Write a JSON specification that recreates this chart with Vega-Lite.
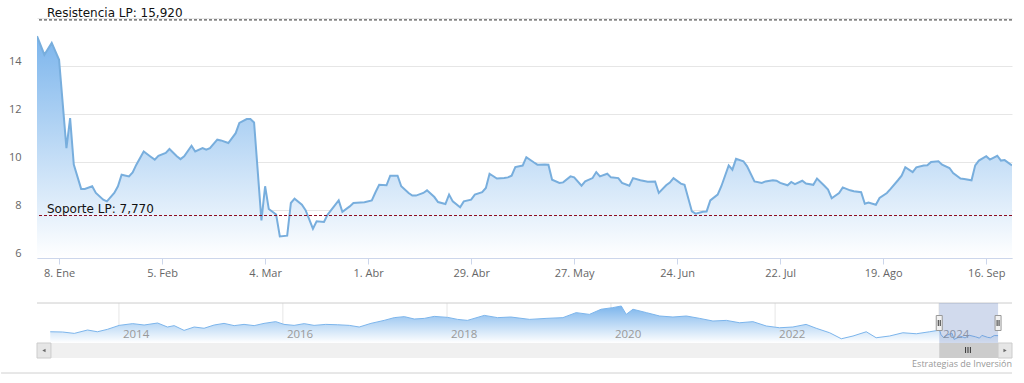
{
  "$schema": "https://vega.github.io/schema/vega-lite/v6.json",
  "padding": {"left": 0, "top": 6, "right": 0, "bottom": 0},
  "spacing": 24,
  "align": "all",
  "config": {"view": {"stroke": null}},
  "datasets": {
    "main": [
      {"d":"2024-01-02","v":15.24},{"d":"2024-01-04","v":14.47},{"d":"2024-01-06","v":14.96},{"d":"2024-01-08","v":14.26},
      {"d":"2024-01-10","v":10.58},{"d":"2024-01-11","v":11.83},{"d":"2024-01-12","v":9.89},{"d":"2024-01-14","v":8.88},
      {"d":"2024-01-15","v":8.88},{"d":"2024-01-17","v":8.99},{"d":"2024-01-18","v":8.71},{"d":"2024-01-20","v":8.43},
      {"d":"2024-01-21","v":8.36},{"d":"2024-01-23","v":8.71},{"d":"2024-01-24","v":8.99},{"d":"2024-01-25","v":9.47},
      {"d":"2024-01-27","v":9.40},{"d":"2024-01-28","v":9.57},{"d":"2024-01-29","v":9.89},{"d":"2024-01-31","v":10.44},
      {"d":"2024-02-02","v":10.21},{"d":"2024-02-03","v":10.10},{"d":"2024-02-04","v":10.26},{"d":"2024-02-06","v":10.38},
      {"d":"2024-02-07","v":10.54},{"d":"2024-02-09","v":10.24},{"d":"2024-02-10","v":10.12},{"d":"2024-02-11","v":10.24},
      {"d":"2024-02-13","v":10.68},{"d":"2024-02-14","v":10.44},{"d":"2024-02-16","v":10.58},{"d":"2024-02-17","v":10.51},
      {"d":"2024-02-18","v":10.58},{"d":"2024-02-20","v":10.93},{"d":"2024-02-21","v":10.90},{"d":"2024-02-23","v":10.79},
      {"d":"2024-02-25","v":11.2},{"d":"2024-02-26","v":11.63},{"d":"2024-02-28","v":11.79},{"d":"2024-02-29","v":11.79},
      {"d":"2024-03-01","v":11.65},{"d":"2024-03-03","v":7.57},{"d":"2024-03-04","v":8.99},{"d":"2024-03-05","v":8.04},
      {"d":"2024-03-07","v":7.81},{"d":"2024-03-08","v":6.90},{"d":"2024-03-10","v":6.93},{"d":"2024-03-11","v":8.29},
      {"d":"2024-03-12","v":8.47},{"d":"2024-03-14","v":8.22},{"d":"2024-03-15","v":7.99},{"d":"2024-03-17","v":7.22},
      {"d":"2024-03-18","v":7.53},{"d":"2024-03-20","v":7.50},{"d":"2024-03-21","v":7.81},{"d":"2024-03-24","v":8.40},
      {"d":"2024-03-25","v":7.92},{"d":"2024-03-27","v":8.15},{"d":"2024-03-28","v":8.29},{"d":"2024-03-31","v":8.32},
      {"d":"2024-04-02","v":8.40},{"d":"2024-04-03","v":8.74},{"d":"2024-04-04","v":9.05},{"d":"2024-04-06","v":9.03},
      {"d":"2024-04-07","v":9.43},{"d":"2024-04-09","v":9.43},{"d":"2024-04-10","v":8.99},{"d":"2024-04-12","v":8.71},
      {"d":"2024-04-13","v":8.60},{"d":"2024-04-14","v":8.60},{"d":"2024-04-16","v":8.71},{"d":"2024-04-17","v":8.82},
      {"d":"2024-04-19","v":8.54},{"d":"2024-04-20","v":8.33},{"d":"2024-04-22","v":8.25},{"d":"2024-04-23","v":8.64},
      {"d":"2024-04-24","v":8.36},{"d":"2024-04-26","v":8.11},{"d":"2024-04-27","v":8.36},{"d":"2024-04-29","v":8.43},
      {"d":"2024-04-30","v":8.64},{"d":"2024-05-02","v":8.74},{"d":"2024-05-03","v":8.92},{"d":"2024-05-04","v":9.51},
      {"d":"2024-05-06","v":9.31},{"d":"2024-05-08","v":9.33},{"d":"2024-05-09","v":9.36},{"d":"2024-05-10","v":9.43},
      {"d":"2024-05-11","v":9.79},{"d":"2024-05-13","v":9.85},{"d":"2024-05-14","v":10.20},{"d":"2024-05-16","v":9.99},
      {"d":"2024-05-17","v":9.89},{"d":"2024-05-19","v":9.90},{"d":"2024-05-20","v":9.89},{"d":"2024-05-21","v":9.26},
      {"d":"2024-05-23","v":9.13},{"d":"2024-05-24","v":9.15},{"d":"2024-05-26","v":9.40},{"d":"2024-05-27","v":9.36},
      {"d":"2024-05-29","v":9.01},{"d":"2024-05-30","v":9.19},{"d":"2024-06-01","v":9.33},{"d":"2024-06-02","v":9.58},
      {"d":"2024-06-03","v":9.40},{"d":"2024-06-05","v":9.51},{"d":"2024-06-06","v":9.36},{"d":"2024-06-08","v":9.33},
      {"d":"2024-06-09","v":9.13},{"d":"2024-06-11","v":9.01},{"d":"2024-06-12","v":9.33},{"d":"2024-06-14","v":9.24},
      {"d":"2024-06-16","v":9.18},{"d":"2024-06-18","v":9.19},{"d":"2024-06-19","v":8.71},{"d":"2024-06-21","v":9.03},
      {"d":"2024-06-22","v":9.14},{"d":"2024-06-23","v":9.33},{"d":"2024-06-25","v":9.10},{"d":"2024-06-26","v":9.05},
      {"d":"2024-06-28","v":7.94},{"d":"2024-06-29","v":7.85},{"d":"2024-07-01","v":7.93},{"d":"2024-07-02","v":7.94},
      {"d":"2024-07-03","v":8.40},{"d":"2024-07-05","v":8.64},{"d":"2024-07-06","v":8.99},{"d":"2024-07-08","v":9.86},
      {"d":"2024-07-09","v":9.68},{"d":"2024-07-10","v":10.13},{"d":"2024-07-12","v":10.03},{"d":"2024-07-13","v":9.82},
      {"d":"2024-07-15","v":9.19},{"d":"2024-07-17","v":9.13},{"d":"2024-07-18","v":9.19},{"d":"2024-07-20","v":9.24},
      {"d":"2024-07-21","v":9.22},{"d":"2024-07-22","v":9.13},{"d":"2024-07-24","v":9.03},{"d":"2024-07-25","v":9.17},
      {"d":"2024-07-26","v":9.08},{"d":"2024-07-28","v":9.22},{"d":"2024-07-29","v":9.10},{"d":"2024-07-31","v":9.05},
      {"d":"2024-08-01","v":9.31},{"d":"2024-08-03","v":9.01},{"d":"2024-08-04","v":8.85},{"d":"2024-08-05","v":8.49},
      {"d":"2024-08-07","v":8.71},{"d":"2024-08-08","v":8.94},{"d":"2024-08-10","v":8.82},{"d":"2024-08-11","v":8.78},
      {"d":"2024-08-13","v":8.74},{"d":"2024-08-14","v":8.26},{"d":"2024-08-15","v":8.31},{"d":"2024-08-17","v":8.22},
      {"d":"2024-08-18","v":8.50},{"d":"2024-08-20","v":8.71},{"d":"2024-08-21","v":8.88},{"d":"2024-08-23","v":9.24},
      {"d":"2024-08-24","v":9.43},{"d":"2024-08-25","v":9.78},{"d":"2024-08-27","v":9.58},{"d":"2024-08-28","v":9.78},
      {"d":"2024-08-30","v":9.85},{"d":"2024-08-31","v":9.86},{"d":"2024-09-01","v":10.00},{"d":"2024-09-03","v":10.03},
      {"d":"2024-09-04","v":9.89},{"d":"2024-09-06","v":9.75},{"d":"2024-09-07","v":9.54},{"d":"2024-09-09","v":9.31},
      {"d":"2024-09-10","v":9.29},{"d":"2024-09-12","v":9.24},{"d":"2024-09-13","v":9.86},{"d":"2024-09-14","v":10.06},
      {"d":"2024-09-16","v":10.24},{"d":"2024-09-17","v":10.10},{"d":"2024-09-19","v":10.26},{"d":"2024-09-20","v":10.06},
      {"d":"2024-09-21","v":10.08},{"d":"2024-09-23","v":9.86}
    ],
    "levels": [
      {"name":"Resistencia LP","v":15.92,"label":"Resistencia LP: 15,920"},
      {"name":"Soporte LP","v":7.77,"label":"Soporte LP: 7,770"}
    ],
    "nav": [
      {"d":"2013-03-01","v":13.0},{"d":"2013-04-25","v":12.8},{"d":"2013-06-16","v":11.7},{"d":"2013-08-14","v":14.4},
      {"d":"2013-09-27","v":13.0},{"d":"2013-11-10","v":14.9},{"d":"2014-01-02","v":18.1},{"d":"2014-03-03","v":19.5},
      {"d":"2014-04-23","v":18.4},{"d":"2014-06-22","v":20.0},{"d":"2014-08-05","v":16.8},{"d":"2014-09-04","v":17.9},
      {"d":"2014-10-18","v":14.1},{"d":"2014-12-02","v":16.8},{"d":"2015-01-15","v":15.8},{"d":"2015-03-01","v":18.4},
      {"d":"2015-04-14","v":19.7},{"d":"2015-05-29","v":17.9},{"d":"2015-07-12","v":18.9},{"d":"2015-08-26","v":17.9},
      {"d":"2015-10-09","v":19.7},{"d":"2015-11-30","v":21.1},{"d":"2016-01-06","v":18.9},{"d":"2016-02-20","v":18.1},
      {"d":"2016-04-05","v":19.5},{"d":"2016-05-19","v":18.1},{"d":"2016-07-10","v":18.9},{"d":"2016-09-01","v":18.6},
      {"d":"2016-10-23","v":18.1},{"d":"2016-12-06","v":16.8},{"d":"2017-01-27","v":19.7},{"d":"2017-03-27","v":22.1},
      {"d":"2017-05-11","v":24.3},{"d":"2017-06-25","v":25.1},{"d":"2017-08-08","v":23.2},{"d":"2017-09-22","v":23.7},
      {"d":"2017-11-05","v":25.3},{"d":"2018-01-04","v":24.5},{"d":"2018-02-17","v":22.9},{"d":"2018-04-02","v":22.1},
      {"d":"2018-06-16","v":26.1},{"d":"2018-08-14","v":24.3},{"d":"2018-10-12","v":24.8},{"d":"2019-01-04","v":22.9},
      {"d":"2019-03-18","v":23.7},{"d":"2019-06-01","v":24.3},{"d":"2019-07-30","v":28.3},{"d":"2019-09-27","v":26.9},
      {"d":"2019-11-18","v":31.0},{"d":"2020-01-09","v":32.3},{"d":"2020-02-16","v":33.6},{"d":"2020-03-09","v":26.9},
      {"d":"2020-04-08","v":31.0},{"d":"2020-06-07","v":28.3},{"d":"2020-08-05","v":25.6},{"d":"2020-10-03","v":24.8},
      {"d":"2020-12-02","v":25.6},{"d":"2021-01-30","v":23.7},{"d":"2021-03-30","v":21.6},{"d":"2021-05-29","v":22.1},
      {"d":"2021-07-27","v":20.2},{"d":"2021-09-24","v":21.1},{"d":"2021-11-23","v":17.6},{"d":"2022-01-21","v":16.2},
      {"d":"2022-03-21","v":16.8},{"d":"2022-05-19","v":18.9},{"d":"2022-07-03","v":15.8},{"d":"2022-09-01","v":12.2},
      {"d":"2022-10-23","v":7.4},{"d":"2022-12-14","v":9.6},{"d":"2023-02-11","v":13.0},{"d":"2023-03-27","v":8.2},
      {"d":"2023-05-26","v":9.6},{"d":"2023-07-24","v":12.2},{"d":"2023-09-22","v":11.4},{"d":"2023-11-20","v":13.0},
      {"d":"2023-12-27","v":14.1},{"d":"2024-01-02","v":15.2},{"d":"2024-01-10","v":10.6},{"d":"2024-01-21","v":8.4},
      {"d":"2024-02-07","v":10.5},{"d":"2024-02-28","v":11.8},{"d":"2024-03-08","v":6.9},{"d":"2024-04-07","v":9.4},
      {"d":"2024-04-26","v":8.1},{"d":"2024-05-14","v":10.2},{"d":"2024-06-11","v":9.0},{"d":"2024-06-29","v":7.9},
      {"d":"2024-07-10","v":10.1},{"d":"2024-08-05","v":8.5},{"d":"2024-08-17","v":8.2},{"d":"2024-09-03","v":10.0},
      {"d":"2024-09-20","v":9.9}
    ],
    "years": [
      {"d":"2014-01-01","label":"2014"},{"d":"2016-01-01","label":"2016"},{"d":"2018-01-01","label":"2018"},
      {"d":"2020-01-01","label":"2020"},{"d":"2022-01-01","label":"2022"},{"d":"2024-01-01","label":"2024"}
    ]
  },
  "vconcat": [
    {
      "width": 975,
      "height": 240,
      "layer": [
        {
          "data": {"name": "main"},
          "mark": {"type": "area", "clip": true, "color": {"gradient": "linear", "x1": 0, "y1": 0, "x2": 0, "y2": 1,
            "stops": [{"offset": 0, "color": "#7cb5ec"}, {"offset": 1, "color": "#ffffff"}]}},
          "encoding": {
            "x": {"field": "d", "type": "temporal",
              "scale": {"type": "utc", "domain": [{"year": 2024, "month": 1, "date": 2, "utc": true}, {"year": 2024, "month": 9, "date": 23, "utc": true}]},
              "axis": {"title": null, "grid": false, "labelFlush": false, "labelOverlap": false,
                "values": [
                  {"year": 2024, "month": 1, "date": 8, "utc": true},
                  {"year": 2024, "month": 2, "date": 5, "utc": true},
                  {"year": 2024, "month": 3, "date": 4, "utc": true},
                  {"year": 2024, "month": 4, "date": 1, "utc": true},
                  {"year": 2024, "month": 4, "date": 29, "utc": true},
                  {"year": 2024, "month": 5, "date": 27, "utc": true},
                  {"year": 2024, "month": 6, "date": 24, "utc": true},
                  {"year": 2024, "month": 7, "date": 22, "utc": true},
                  {"year": 2024, "month": 8, "date": 19, "utc": true},
                  {"year": 2024, "month": 9, "date": 16, "utc": true}
                ],
                "labelExpr": "utcdate(datum.value) + '. ' + ['Ene','Feb','Mar','Abr','May','Jun','Jul','Ago','Sep','Oct','Nov','Dic'][utcmonth(datum.value)]",
                "domainColor": "#ccd6eb", "tickColor": "#ccd6eb", "tickSize": 6, "labelPadding": 3,
                "labelColor": "#666666", "labelFont": "Open Sans", "labelFontSize": 11}
            },
            "y": {"field": "v", "type": "quantitative",
              "scale": {"domain": [6, 16], "nice": false, "zero": false},
              "axis": {"title": null, "values": [6, 8, 10, 12, 14, 16], "labelExpr": "datum.value == 16 ? '' : datum.label",
                "grid": true, "gridColor": "#e6e6e6", "domain": false, "ticks": false, "labelPadding": 16,
                "labelBaseline": "alphabetic", "labelOffset": -2,
                "labelColor": "#666666", "labelFont": "Open Sans", "labelFontSize": 11}
            },
            "y2": {"datum": 6}
          }
        },
        {
          "data": {"name": "main"},
          "mark": {"type": "line", "color": "#78aedd", "strokeWidth": 2, "clip": true},
          "encoding": {
            "x": {"field": "d", "type": "temporal"},
            "y": {"field": "v", "type": "quantitative"}
          }
        },
        {
          "data": {"name": "levels"},
          "mark": {"type": "rule", "strokeDash": [3, 2], "strokeWidth": 1},
          "encoding": {
            "y": {"field": "v", "type": "quantitative"},
            "color": {"field": "name", "type": "nominal", "legend": null,
              "scale": {"domain": ["Resistencia LP", "Soporte LP"], "range": ["#2b2b2b", "#8b0a1e"]}}
          }
        },
        {
          "data": {"name": "levels"},
          "mark": {"type": "text", "align": "left", "baseline": "alphabetic", "dx": 10, "dy": -3,
            "font": "DejaVu Sans", "fontSize": 12, "color": "#111111"},
          "encoding": {
            "x": {"datum": {"year": 2024, "month": 1, "date": 2, "utc": true}, "type": "temporal"},
            "y": {"field": "v", "type": "quantitative"},
            "text": {"field": "label"}
          }
        }
      ]
    },
    {
      "width": 975,
      "height": 70,
      "layer": [
        {
          "data": {"name": "years"},
          "mark": {"type": "rule", "color": "#e6e6e6"},
          "encoding": {
            "x": {"field": "d", "type": "temporal", "axis": null,
              "scale": {"type": "utc", "domain": [{"year": 2013, "month": 1, "date": 1, "utc": true}, {"year": 2024, "month": 11, "date": 21, "utc": true}]}},
            "y": {"datum": 36, "type": "quantitative", "axis": null, "scale": {"domain": [-20, 36], "nice": false, "zero": false}},
            "y2": {"datum": 4}
          }
        },
        {
          "data": {"name": "nav"},
          "mark": {"type": "area", "color": {"gradient": "linear", "x1": 0, "y1": 0, "x2": 0, "y2": 1,
            "stops": [{"offset": 0, "color": "#7cb5ec"}, {"offset": 1, "color": "#ffffff"}]}},
          "encoding": {
            "x": {"field": "d", "type": "temporal", "axis": null},
            "y": {"field": "v", "type": "quantitative", "axis": null},
            "y2": {"datum": 4}
          }
        },
        {
          "data": {"name": "nav"},
          "mark": {"type": "line", "color": "#7cb5ec", "strokeWidth": 1},
          "encoding": {
            "x": {"field": "d", "type": "temporal", "axis": null},
            "y": {"field": "v", "type": "quantitative", "axis": null}
          }
        },
        {
          "data": {"name": "years"},
          "mark": {"type": "text", "align": "left", "baseline": "middle", "dx": 4, "font": "Open Sans", "fontSize": 11.5, "color": "#999999"},
          "encoding": {
            "x": {"field": "d", "type": "temporal", "axis": null},
            "y": {"datum": 10.4, "type": "quantitative", "axis": null},
            "text": {"field": "label"}
          }
        },
        {
          "data": {"values": [{}]},
          "mark": {"type": "rule", "color": "#cccccc"},
          "encoding": {
            "x": {"datum": {"year": 2013, "month": 1, "date": 1, "utc": true}, "type": "temporal", "axis": null},
            "x2": {"datum": {"year": 2024, "month": 11, "date": 21, "utc": true}},
            "y": {"datum": 36, "type": "quantitative", "axis": null}
          }
        },
        {
          "data": {"values": [{}]},
          "mark": {"type": "rect", "color": "rgba(102,133,194,0.3)"},
          "encoding": {
            "x": {"datum": {"year": 2024, "month": 1, "date": 2, "utc": true}, "type": "temporal", "axis": null},
            "x2": {"datum": {"year": 2024, "month": 9, "date": 20, "utc": true}},
            "y": {"datum": 36, "type": "quantitative", "axis": null},
            "y2": {"datum": 4}
          }
        },
        {
          "data": {"values": [{}]},
          "mark": {"type": "rect", "color": "#f0f0f0"},
          "encoding": {
            "x": {"datum": {"year": 2013, "month": 1, "date": 1, "utc": true}, "type": "temporal", "axis": null},
            "x2": {"datum": {"year": 2024, "month": 11, "date": 21, "utc": true}},
            "y": {"datum": 4, "type": "quantitative", "axis": null},
            "y2": {"datum": -8}
          }
        },
        {
          "data": {"values": [{}]},
          "mark": {"type": "rect", "color": "#cccccc"},
          "encoding": {
            "x": {"datum": {"year": 2024, "month": 1, "date": 2, "utc": true}, "type": "temporal", "axis": null},
            "x2": {"datum": {"year": 2024, "month": 9, "date": 20, "utc": true}},
            "y": {"datum": 4, "type": "quantitative", "axis": null},
            "y2": {"datum": -8}
          }
        },
        {
          "data": {"values": [{}]},
          "mark": {"type": "rect", "fill": "#e6e6e6", "stroke": "#cccccc", "strokeWidth": 1},
          "encoding": {
            "x": {"datum": {"year": 2013, "month": 1, "date": 1, "utc": true}, "type": "temporal", "axis": null},
            "x2": {"datum": {"year": 2013, "month": 3, "date": 4, "utc": true}},
            "y": {"datum": 4, "type": "quantitative", "axis": null},
            "y2": {"datum": -8}
          }
        },
        {
          "data": {"values": [{}]},
          "mark": {"type": "rect", "fill": "#e6e6e6", "stroke": "#cccccc", "strokeWidth": 1},
          "encoding": {
            "x": {"datum": {"year": 2024, "month": 9, "date": 20, "utc": true}, "type": "temporal", "axis": null},
            "x2": {"datum": {"year": 2024, "month": 11, "date": 21, "utc": true}},
            "y": {"datum": 4, "type": "quantitative", "axis": null},
            "y2": {"datum": -8}
          }
        },
        {
          "data": {"values": [{}]},
          "mark": {"type": "point", "shape": "triangle-left", "size": 14, "filled": true, "color": "#333333"},
          "encoding": {
            "x": {"datum": {"year": 2013, "month": 2, "date": 1, "utc": true}, "type": "temporal", "axis": null},
            "y": {"datum": -2, "type": "quantitative", "axis": null}
          }
        },
        {
          "data": {"values": [{}]},
          "mark": {"type": "point", "shape": "triangle-right", "size": 14, "filled": true, "color": "#333333"},
          "encoding": {
            "x": {"datum": {"year": 2024, "month": 10, "date": 21, "utc": true}, "type": "temporal", "axis": null},
            "y": {"datum": -2, "type": "quantitative", "axis": null}
          }
        },
        {
          "data": {"values": [{}]},
          "mark": {"type": "point", "shape": "M-0.4,-0.5V0.5M0,-0.5V0.5M0.4,-0.5V0.5", "size": 144, "filled": false, "color": "#333333", "strokeWidth": 1, "opacity": 1},
          "encoding": {
            "x": {"datum": {"year": 2024, "month": 5, "date": 9, "utc": true}, "type": "temporal", "axis": null},
            "y": {"datum": -1.6, "type": "quantitative", "axis": null}
          }
        },
        {
          "data": {"values": [{"d": "2024-01-02"}, {"d": "2024-09-20"}]},
          "mark": {"type": "point", "shape": "M-0.4,-1H0.4V1H-0.4Z", "size": 225, "filled": true, "fill": "#f2f2f2", "stroke": "#999999", "strokeWidth": 1, "opacity": 1},
          "encoding": {
            "x": {"field": "d", "type": "temporal", "axis": null},
            "y": {"datum": 20, "type": "quantitative", "axis": null}
          }
        },
        {
          "data": {"values": [{"d": "2024-01-02"}, {"d": "2024-09-20"}]},
          "mark": {"type": "point", "shape": "M-0.13,-0.4V0.4M0.13,-0.4V0.4", "size": 225, "filled": false, "color": "#333333", "strokeWidth": 1, "opacity": 1},
          "encoding": {
            "x": {"field": "d", "type": "temporal", "axis": null},
            "y": {"datum": 20, "type": "quantitative", "axis": null}
          }
        },
        {
          "data": {"values": [{"credit": "Estrategias de Inversión"}]},
          "mark": {"type": "text", "align": "right", "baseline": "middle", "font": "Open Sans", "fontSize": 9, "color": "#999999"},
          "encoding": {
            "x": {"datum": {"year": 2024, "month": 11, "date": 21, "utc": true}, "type": "temporal", "axis": null},
            "y": {"datum": -12.8, "type": "quantitative", "axis": null},
            "text": {"field": "credit"}
          }
        },
        {
          "data": {"values": [{}]},
          "mark": {"type": "rule", "color": "#d0d0d0"},
          "encoding": {
            "x": {"datum": {"year": 2012, "month": 7, "date": 25, "utc": true}, "type": "temporal", "axis": null},
            "x2": {"datum": {"year": 2024, "month": 11, "date": 21, "utc": true}},
            "y": {"datum": -20, "type": "quantitative", "axis": null}
          }
        }
      ]
    }
  ]
}
